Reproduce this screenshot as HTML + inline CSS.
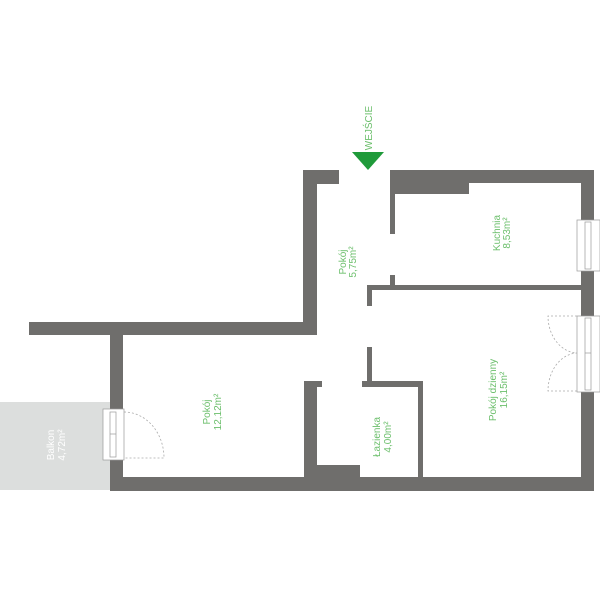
<!DOCTYPE html>
<html><head><meta charset="utf-8"><style>
html,body{margin:0;padding:0;background:#fff;width:600px;height:600px;overflow:hidden}
text{font-family:"Liberation Sans",sans-serif;font-weight:300}
</style></head><body>
<svg width="600" height="600" viewBox="0 0 600 600" xmlns="http://www.w3.org/2000/svg">
<rect x="0" y="402" width="110" height="88" fill="#dcdedd"/>
<g fill="#6f6e6c">
<rect x="303" y="170" width="14" height="165"/>
<rect x="303" y="170" width="36" height="14"/>
<rect x="29" y="322" width="288" height="13"/>
<rect x="110" y="322" width="13" height="89"/>
<rect x="110" y="458" width="13" height="33"/>
<rect x="110" y="477" width="484" height="14"/>
<rect x="390" y="170" width="204" height="13"/>
<rect x="390" y="170" width="79" height="24"/>
<rect x="390" y="170" width="5" height="64"/>
<rect x="390" y="275" width="5" height="12"/>
<rect x="581" y="170" width="13" height="50"/>
<rect x="581" y="271" width="13" height="45"/>
<rect x="581" y="392" width="13" height="99"/>
<rect x="367" y="285" width="227" height="5"/>
<rect x="367" y="285" width="5" height="21"/>
<rect x="367" y="347" width="5" height="38"/>
<rect x="362" y="381" width="61" height="6"/>
<rect x="418" y="381" width="5" height="96"/>
<rect x="304" y="381" width="13" height="96"/>
<rect x="304" y="381" width="18" height="6"/>
<rect x="304" y="465" width="56" height="12"/>
</g>
<g fill="#fff" stroke="#999" stroke-width="0.7">
<rect x="577" y="220" width="23" height="51"/>
<rect x="585" y="222" width="6" height="47"/>
<rect x="577" y="316" width="23" height="76"/>
<rect x="585" y="318" width="6" height="72"/>
<rect x="103" y="409" width="21" height="51"/>
<rect x="110" y="412" width="6" height="45"/>
</g>
<line x1="585" y1="353" x2="591" y2="353" stroke="#999" stroke-width="0.7"/>
<line x1="110" y1="434" x2="116" y2="434" stroke="#999" stroke-width="0.7"/>
<g fill="none" stroke="#aaa" stroke-width="0.8" stroke-dasharray="2,2">
<path d="M124 412 A40 46 0 0 1 164 458 L124 458"/>
<path d="M577 316 L548 316 A30 37 0 0 0 577 353"/>
<path d="M577 391 L548 391 A30 38 0 0 1 577 353"/>
</g>
<polygon points="352,152 384,152 368,170" fill="#1f9a3a"/>
<g fill="#6cbf6c" font-size="10" text-anchor="middle">
<text transform="translate(372,128) rotate(-90)">WEJŚCIE</text>
<text transform="translate(346,262) rotate(-90)">Pokój</text>
<text transform="translate(356,262) rotate(-90)">5,75m²</text>
<text transform="translate(500,233) rotate(-90)">Kuchnia</text>
<text transform="translate(510,233) rotate(-90)">8,53m²</text>
<text transform="translate(496,390) rotate(-90)">Pokój dzienny</text>
<text transform="translate(507,390) rotate(-90)">16,15m²</text>
<text transform="translate(210,412) rotate(-90)">Pokój</text>
<text transform="translate(221,412) rotate(-90)">12,12m²</text>
<text transform="translate(380,437) rotate(-90)">Łazienka</text>
<text transform="translate(391,437) rotate(-90)">4,00m²</text>
</g>
<g fill="#fff" font-size="10" text-anchor="middle">
<text transform="translate(54,445) rotate(-90)">Balkon</text>
<text transform="translate(65,445) rotate(-90)">4,72m²</text>
</g>
</svg>
</body></html>
